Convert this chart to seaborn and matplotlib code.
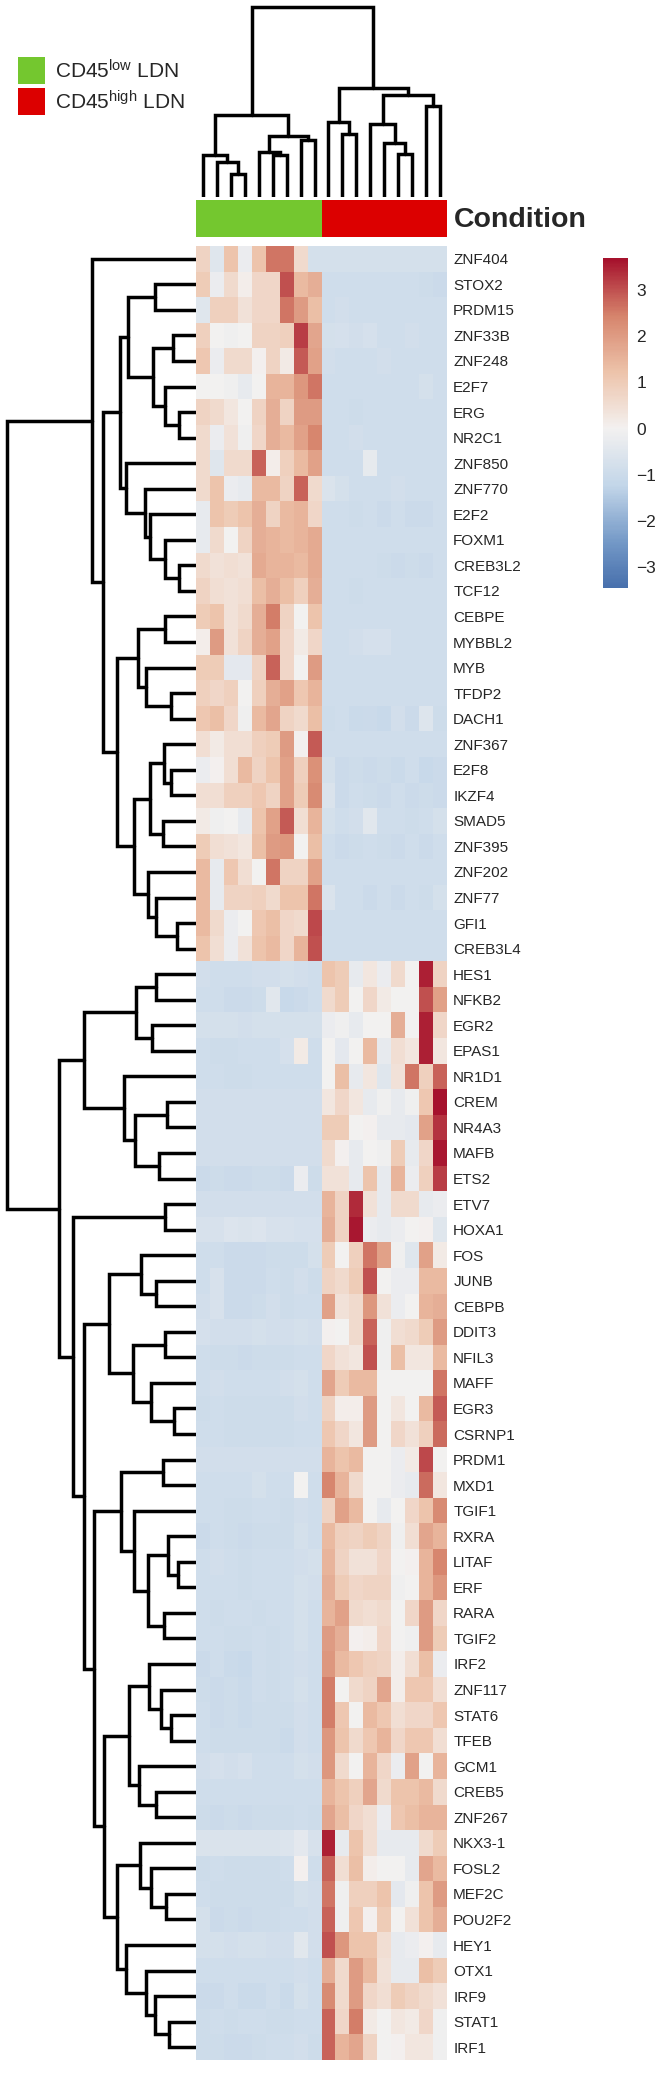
import numpy as np
import pandas as pd
import matplotlib
matplotlib.use("Agg")
import matplotlib.pyplot as plt
import seaborn as sns
from matplotlib.colors import LinearSegmentedColormap, ListedColormap

# ---------------- data ----------------
genes = [
    "ZNF404", "STOX2", "PRDM15", "ZNF33B", "ZNF248", "E2F7", "ERG", "NR2C1",
    "ZNF850", "ZNF770", "E2F2", "FOXM1", "CREB3L2", "TCF12", "CEBPE", "MYBBL2",
    "MYB", "TFDP2", "DACH1", "ZNF367", "E2F8", "IKZF4", "SMAD5", "ZNF395",
    "ZNF202", "ZNF77", "GFI1", "CREB3L4",
    "HES1", "NFKB2", "EGR2", "EPAS1", "NR1D1", "CREM", "NR4A3", "MAFB", "ETS2",
    "ETV7", "HOXA1", "FOS", "JUNB", "CEBPB", "DDIT3", "NFIL3", "MAFF", "EGR3",
    "CSRNP1", "PRDM1", "MXD1", "TGIF1", "RXRA", "LITAF", "ERF", "RARA", "TGIF2",
    "IRF2", "ZNF117", "STAT6", "TFEB", "GCM1", "CREB5", "ZNF267", "NKX3-1",
    "FOSL2", "MEF2C", "POU2F2", "HEY1", "OTX1", "IRF9", "STAT1", "IRF1",
]

samples = [f"S{i + 1}" for i in range(18)]
condition = ["low"] * 9 + ["high"] * 9
legend_labels = [r"CD45$^{\mathregular{low}}$ LDN", r"CD45$^{\mathregular{high}}$ LDN"]

# z-scores, green (CD45low) columns then red (CD45high) columns
low_part = [
    [0.8, -0.5, 1.2, -0.2, 1.2, 2.6, 2.6, 0.6, -0.8],
    [1.0, -0.2, 0.6, 0.1, 0.7, 0.7, 3.0, 1.4, 1.6],
    [-0.5, 0.9, 0.9, 0.4, 0.7, 0.7, 2.6, 2.0, 1.3],
    [0.9, 0.0, -0.1, 0.0, 0.8, 0.8, 0.9, 3.2, 1.8],
    [1.1, -0.2, 0.6, 0.6, 0.05, 0.8, 0.2, 2.9, 1.9],
    [0.0, 0.0, -0.1, -0.3, 0.0, 1.5, 1.5, 2.1, 2.6],
    [0.8, 0.6, 0.3, 0.0, 0.8, 1.6, 0.8, 2.0, 2.0],
    [0.6, -0.2, 0.4, -0.1, 0.7, 1.6, 1.4, 1.9, 2.4],
    [0.6, -0.5, 0.6, 0.6, 2.8, 0.1, 0.9, 1.4, 1.9],
    [0.6, 1.2, -0.2, -0.3, 1.4, 1.4, 0.8, 2.8, 0.6],
    [-0.3, 1.2, 1.0, 1.2, 1.6, 0.8, 1.4, 1.5, 0.7],
    [-0.3, 0.6, 0.0, 0.8, 1.6, 1.5, 1.4, 1.5, 1.7],
    [0.6, 0.4, 0.5, 0.4, 1.7, 1.5, 1.5, 1.4, 1.7],
    [0.8, 0.5, 0.4, 0.5, 1.3, 1.6, 1.3, 0.9, 1.6],
    [1.0, 1.2, 0.4, 0.6, 1.6, 2.5, 0.8, 0.0, 1.2],
    [0.1, 2.0, 0.4, 0.8, 1.6, 1.9, 0.7, 0.2, 0.7],
    [1.0, 1.0, -0.4, -0.4, 0.8, 2.8, 0.7, 0.0, 2.0],
    [0.9, 0.7, 0.9, 0.0, 0.9, 1.6, 1.9, 1.1, 1.5],
    [1.1, 1.3, 0.7, -0.1, 1.4, 1.8, 0.8, 0.6, 1.3],
    [0.5, 0.2, 0.5, 0.5, 0.9, 1.0, 2.0, 0.05, 2.9],
    [-0.2, 0.05, 0.5, 1.4, 0.8, 1.2, 1.9, 0.9, 2.2],
    [0.5, 0.5, 0.9, 0.9, 1.1, 0.8, 1.9, 1.0, 2.3],
    [0.2, -0.1, 0.0, -0.3, 1.2, 1.9, 2.9, 0.5, 1.5],
    [1.0, 0.5, 0.4, 0.3, 1.3, 2.0, 2.1, 0.0, 1.3],
    [1.4, -0.3, 1.1, 0.5, 0.0, 2.6, 0.8, 0.8, 1.9],
    [1.4, -0.3, 0.8, 0.8, 0.9, 0.6, 1.2, 1.2, 2.6],
    [1.4, 0.6, -0.2, 0.0, 1.1, 1.3, 0.7, 0.6, 3.1],
    [1.2, 0.5, -0.2, 0.4, 1.2, 1.4, 0.7, 1.5, 3.0],
    [-0.85, -0.9, -0.9, -0.9, -0.85, -0.85, -0.8, -0.85, -0.9],
    [-0.9, -0.9, -1.0, -1.0, -0.95, -0.45, -1.1, -1.0, -0.9],
    [-0.8, -0.8, -0.8, -0.85, -0.8, -0.8, -0.8, -0.8, -0.8],
    [-0.9, -0.95, -0.95, -0.9, -0.9, -0.9, -0.75, 0.2, -0.9],
    [-0.9, -0.9, -0.95, -0.95, -0.9, -0.9, -0.9, -0.9, -0.9],
    [-0.85, -0.85, -0.85, -0.85, -0.85, -0.85, -0.85, -0.85, -0.85],
    [-0.85, -0.85, -0.85, -0.85, -0.85, -0.85, -0.85, -0.85, -0.85],
    [-0.85, -0.85, -0.85, -0.85, -0.85, -0.85, -0.85, -0.85, -0.85],
    [-1.0, -0.95, -1.0, -1.0, -0.95, -0.95, -1.0, -0.2, -0.95],
    [-0.85, -0.85, -0.85, -0.85, -0.85, -0.85, -0.85, -0.85, -0.85],
    [-0.7, -0.7, -0.6, -0.65, -0.6, -0.7, -0.7, -0.75, -0.75],
    [-0.9, -0.9, -1.0, -1.0, -1.0, -0.95, -0.95, -0.95, -0.8],
    [-0.9, -0.7, -1.0, -1.0, -1.0, -0.9, -0.95, -0.85, -0.95],
    [-0.85, -0.7, -1.0, -1.0, -0.95, -0.85, -0.95, -0.9, -0.9],
    [-0.75, -0.85, -0.85, -0.85, -0.8, -0.85, -0.85, -0.8, -0.85],
    [-0.9, -0.95, -0.95, -1.0, -0.95, -0.95, -0.95, -0.9, -0.9],
    [-0.9, -0.85, -0.9, -0.9, -0.9, -0.9, -0.85, -0.8, -0.9],
    [-0.95, -0.9, -0.95, -0.95, -0.95, -0.95, -0.95, -0.85, -0.9],
    [-0.9, -0.9, -0.95, -0.95, -0.95, -0.95, -0.95, -0.9, -0.9],
    [-0.85, -0.85, -0.85, -0.85, -0.85, -0.85, -0.85, -0.85, -0.85],
    [-0.9, -0.9, -0.9, -0.9, -0.8, -0.9, -0.9, 0.0, -0.9],
    [-0.9, -0.9, -0.95, -0.95, -0.9, -0.9, -0.95, -0.85, -0.9],
    [-1.0, -0.9, -0.95, -1.0, -0.95, -0.95, -0.95, -0.8, -0.9],
    [-0.9, -0.85, -0.9, -0.95, -0.9, -0.9, -0.9, -0.85, -0.8],
    [-0.9, -0.9, -0.9, -0.95, -0.9, -0.9, -0.9, -0.8, -0.85],
    [-0.9, -0.95, -0.9, -0.9, -0.95, -0.9, -0.9, -0.8, -0.9],
    [-0.9, -0.9, -0.95, -0.95, -0.9, -0.95, -0.9, -0.8, -0.9],
    [-1.0, -0.9, -1.05, -1.1, -0.9, -0.95, -0.9, -0.85, -0.9],
    [-0.95, -1.0, -0.95, -1.05, -0.9, -0.95, -0.9, -0.8, -0.9],
    [-0.9, -1.0, -0.95, -1.05, -0.95, -0.95, -0.95, -0.85, -0.9],
    [-0.9, -0.95, -0.95, -0.95, -0.95, -0.95, -1.05, -0.85, -0.9],
    [-0.85, -0.75, -0.85, -0.75, -0.9, -0.9, -0.9, -0.8, -0.85],
    [-0.9, -0.9, -0.9, -0.9, -0.9, -0.9, -0.9, -0.9, -0.9],
    [-0.95, -1.0, -0.95, -1.0, -0.95, -0.95, -0.95, -0.9, -0.95],
    [-0.65, -0.65, -0.65, -0.65, -0.65, -0.65, -0.6, -0.4, -0.7],
    [-0.95, -0.9, -0.95, -0.95, -0.95, -0.95, -0.9, 0.05, -0.9],
    [-0.9, -0.95, -0.95, -0.95, -0.95, -0.95, -0.95, -0.8, -0.85],
    [-0.8, -1.0, -0.95, -1.0, -0.95, -0.95, -0.9, -0.9, -0.85],
    [-0.8, -0.8, -0.85, -0.8, -0.8, -0.85, -0.85, -0.45, -0.85],
    [-0.9, -0.9, -0.9, -0.9, -0.9, -0.9, -0.9, -0.85, -0.9],
    [-1.0, -1.0, -0.9, -1.05, -1.05, -0.9, -1.05, -0.8, -0.9],
    [-0.95, -0.9, -0.95, -0.9, -0.9, -0.95, -0.95, -0.9, -0.9],
    [-0.95, -0.95, -1.0, -1.0, -0.95, -0.9, -0.9, -0.85, -0.95],
]

high_part = [
    [-0.8, -0.8, -0.8, -0.8, -0.8, -0.8, -0.8, -0.8, -0.8],
    [-0.9, -0.9, -0.9, -0.9, -0.9, -0.9, -0.9, -0.95, -1.0],
    [-0.9, -0.85, -0.9, -0.9, -0.9, -0.9, -0.9, -0.9, -0.9],
    [-0.8, -0.75, -0.85, -0.75, -0.9, -0.9, -0.85, -0.9, -0.9],
    [-0.85, -0.9, -0.9, -0.9, -0.85, -0.9, -0.9, -0.9, -0.9],
    [-0.9, -0.9, -0.9, -0.9, -0.9, -0.9, -0.9, -0.8, -0.9],
    [-0.9, -0.9, -0.95, -0.9, -0.9, -0.9, -0.9, -0.9, -0.9],
    [-0.9, -0.9, -0.85, -0.9, -0.9, -0.9, -0.9, -0.9, -0.9],
    [-0.9, -0.9, -0.9, -0.35, -0.9, -0.9, -0.9, -0.9, -0.9],
    [-0.65, -0.8, -0.9, -0.9, -0.9, -0.85, -0.9, -0.9, -0.9],
    [-0.9, -0.9, -0.95, -0.9, -1.0, -0.9, -1.0, -1.0, -0.9],
    [-0.9, -0.9, -0.9, -0.9, -0.9, -0.9, -0.9, -0.9, -0.9],
    [-0.9, -0.9, -0.9, -0.9, -0.95, -1.0, -0.95, -1.0, -0.9],
    [-0.9, -0.9, -0.95, -0.9, -0.9, -0.9, -0.9, -0.9, -0.9],
    [-0.9, -0.9, -0.9, -0.9, -0.9, -0.9, -0.9, -0.9, -0.9],
    [-0.9, -0.9, -0.85, -0.75, -0.75, -0.9, -0.9, -0.9, -0.9],
    [-0.9, -0.9, -0.9, -0.9, -0.9, -0.9, -0.9, -0.9, -0.9],
    [-0.9, -0.9, -0.9, -0.9, -0.9, -0.9, -0.9, -0.9, -0.9],
    [-0.95, -0.9, -1.05, -1.0, -1.1, -0.85, -1.0, -0.55, -0.95],
    [-0.9, -0.9, -0.9, -0.9, -0.9, -0.9, -0.9, -0.9, -0.9],
    [-0.8, -1.0, -0.95, -1.0, -0.95, -1.05, -0.9, -1.1, -1.0],
    [-0.65, -1.0, -0.9, -0.95, -1.0, -0.9, -1.0, -0.95, -1.0],
    [-0.8, -0.9, -0.85, -0.45, -0.9, -0.9, -0.95, -0.9, -0.8],
    [-0.9, -1.0, -0.95, -0.9, -0.95, -1.0, -0.9, -1.0, -0.9],
    [-0.9, -0.9, -0.9, -0.9, -0.9, -0.9, -0.9, -0.9, -0.9],
    [-0.65, -0.9, -0.9, -1.0, -0.9, -1.0, -0.9, -0.95, -0.8],
    [-0.9, -0.9, -0.9, -0.9, -0.9, -0.9, -0.9, -0.9, -0.9],
    [-0.9, -0.9, -0.9, -0.9, -0.9, -0.9, -0.9, -0.9, -0.9],
    [1.2, 1.0, -0.3, 0.3, -0.2, 0.6, 0.0, 3.5, 0.8],
    [0.6, 1.0, 0.0, 0.7, 0.2, 0.0, 0.0, 3.0, 1.9],
    [-0.2, -0.1, -0.3, 0.0, 0.0, 1.6, 0.0, 3.5, 0.7],
    [0.0, -0.4, 0.0, 1.4, -0.3, 0.5, 0.3, 3.5, 0.3],
    [0.0, 1.3, -0.3, 0.3, -0.5, 0.4, 2.6, 0.9, 2.8],
    [0.3, 0.7, 0.3, -0.3, -0.1, -0.3, -0.1, 1.1, 3.7],
    [1.0, 1.0, 0.0, 0.05, -0.3, -0.3, -0.4, 1.9, 3.3],
    [0.6, 0.05, -0.3, 0.0, -0.1, 1.0, -0.3, 0.7, 3.6],
    [0.4, 0.4, -0.3, 1.2, -0.3, 1.5, -0.2, 0.9, 3.2],
    [1.5, 0.8, 3.4, 0.4, -0.3, 0.6, 0.6, -0.3, -0.2],
    [1.6, 0.8, 3.6, -0.2, -0.3, -0.2, 0.0, 0.05, -0.5],
    [1.0, 0.0, 0.9, 2.6, 1.9, -0.1, -0.5, 1.9, 0.2],
    [0.8, 0.6, 1.0, 3.0, 0.0, -0.2, -0.2, 1.4, 1.4],
    [1.9, 0.4, 0.6, 2.1, 0.4, -0.2, 0.0, 1.5, 1.6],
    [0.05, 0.0, 0.6, 2.8, -0.1, 0.5, 0.6, 1.0, 2.0],
    [0.7, 0.4, 0.3, 3.0, -0.1, 1.3, 0.3, 0.3, 1.4],
    [1.8, 1.0, 1.4, 1.4, 0.0, 0.0, 0.0, 0.0, 2.6],
    [0.8, 0.1, 0.1, 2.0, 0.0, 0.3, 0.0, 1.4, 2.9],
    [1.1, 0.7, 0.3, 2.0, 0.0, 0.7, 0.4, 0.9, 2.7],
    [1.5, 1.2, 1.4, 0.0, 0.0, -0.2, 0.2, 3.1, 0.0],
    [2.4, 1.5, 0.6, 0.0, 0.0, -0.2, -0.3, 2.7, 0.3],
    [0.8, 1.9, 1.4, 0.0, -0.3, 0.0, 0.7, 1.2, 2.3],
    [1.4, 0.9, 0.8, 1.0, 0.8, -0.1, 0.5, 1.8, 1.5],
    [1.5, 0.8, 0.4, 0.4, 0.7, 0.0, 0.05, 1.5, 2.4],
    [1.6, 1.0, 0.7, 0.8, 0.8, -0.1, 0.0, 1.5, 2.1],
    [1.5, 1.9, 0.6, 0.5, 0.6, 0.0, 0.7, 2.0, 0.7],
    [2.0, 1.6, 0.05, 0.1, 0.7, 0.0, -0.1, 2.0, 1.0],
    [2.1, 1.4, 1.1, 0.9, 0.8, 0.1, 0.5, 1.3, -0.2],
    [2.5, 0.0, 0.6, 0.8, 1.8, 0.1, 1.1, 1.1, 0.5],
    [2.5, 1.1, 0.0, 1.4, 1.1, 0.5, 0.7, 0.7, 1.1],
    [2.1, 1.2, 0.6, 1.1, 1.5, 0.7, 1.1, 1.1, 0.5],
    [2.1, 0.6, 0.0, 1.5, 0.7, -0.2, 1.9, 0.0, 1.5],
    [1.5, 1.2, 0.9, 1.8, 0.6, 1.2, 1.2, 1.4, 0.6],
    [1.8, 1.3, 0.7, 0.5, -0.2, 1.1, 1.3, 1.5, 1.5],
    [3.5, -0.3, 1.2, 0.5, -0.3, -0.3, -0.3, 0.6, 1.0],
    [2.8, 0.5, 1.3, 0.1, 0.0, 0.0, -0.3, 1.8, 1.4],
    [2.6, -0.1, 0.9, 0.9, 1.2, -0.4, -0.1, 1.2, 2.0],
    [2.8, -0.1, 1.1, 0.05, 1.0, 0.0, 0.4, 1.2, 1.6],
    [3.0, 2.1, 1.2, 1.2, 0.5, -0.3, -0.2, 0.05, -0.3],
    [1.6, 0.6, 2.0, 1.4, 0.4, -0.3, -0.3, 1.3, 1.0],
    [2.3, 0.6, 2.0, 0.7, 0.5, 1.0, 0.8, 0.6, 0.4],
    [2.8, 0.7, 2.5, 0.2, 0.0, 0.3, 0.2, 0.7, -0.1],
    [2.8, 1.5, 1.8, 0.8, 0.0, 0.05, 0.3, 0.3, -0.1],
]

# dendrograms as nested (merge height, left, right); leaves are column / row indices
col_tree = (190,
            (82, (42, 0, (35, 1, (23, 2, 3))), (61, (45, 4, (42, 5, 6)), (57, 7, 8))),
            (109, (75, 9, (63, 10, 11)),
             (102, (73, 12, (54, 13, (43, 14, 15))), (91, 16, 17))))

row_tree = (189,
            (104, 0,
             (93,
              (76,
               (68, (41, 1, 2), (43, (23, 3, 4), (31, 5, (17, 6, 7)))),
               (70, 8, (51, 9, (46, 10, (31, 11, (17, 12, 13)))))),
              (79,
               (58, (31, 14, 15), (50, 16, (25, 17, 18))),
               (62,
                (46, (32, 19, (25, 20, 21)), (33, 22, 23)),
                (48, 24, (40, 25, (19, 26, 27))))))),
            (137,
             (112,
              (60, (40, 28, 29), (44, 30, 31)),
              (72, 32, (61, (29, 33, 34), (37, 35, 36)))),
             (123,
              (31, 37, 38),
              (112,
               (87,
                (55, 39, (40, 40, 41)),
                (63, (31, 42, 43), (45, 44, (22, 45, 46)))),
               (102,
                (75, (33, 47, 48),
                 (62, 49, (48, (28, 50, (18, 51, 52)), (32, 53, 54)))),
                (92,
                 (67, (47, 55, (35, 56, (25, 57, 58))), (57, 59, (40, 60, 61))),
                 (79, (56, 62, (45, 63, (30, 64, 65))),
                  (70, 66, (50, 67, (41, 68, (27, 69, 70)))))))))))

# ---------------- style ----------------
sns.set_style("white")
plt.rcParams["font.family"] = ["Liberation Sans", "DejaVu Sans"]
plt.rcParams["mathtext.fontset"] = "custom"
plt.rcParams["mathtext.rm"] = "Liberation Sans"
plt.rcParams["mathtext.default"] = "regular"

cmap = LinearSegmentedColormap.from_list(
    "expr", ["#3d66a6", "#7499c7", "#c3d6e9", "#f3f1f0", "#edc3aa", "#d6846c", "#a6122d"])
green, red = "#74c72f", "#dc0000"

W, H = 670, 2076
fig = plt.figure(figsize=(W / 100, H / 100), dpi=100)


def px_axes(x0, y0, x1, y1):
    return fig.add_axes([x0 / W, 1 - y1 / H, (x1 - x0) / W, (y1 - y0) / H])


def draw_tree(ax, node, rows):
    if isinstance(node, int):
        return node + 0.5, 0.0
    h, left, right = node
    p1, h1 = draw_tree(ax, left, rows)
    p2, h2 = draw_tree(ax, right, rows)
    pos = [p1, p1, p2, p2]
    hts = [h1, h, h, h2]
    if rows:
        ax.plot(hts, pos, color="black", lw=2.5, solid_joinstyle="miter")
    else:
        ax.plot(pos, hts, color="black", lw=2.5, solid_joinstyle="miter")
    return (p1 + p2) / 2, h


expr = pd.DataFrame([a + b for a, b in zip(low_part, high_part)], index=genes, columns=samples)

# heatmap + colorbar
ax_hm = px_axes(196, 246, 447, 2060)
ax_cb = px_axes(603, 258, 628, 588)
sns.heatmap(expr, ax=ax_hm, cmap=cmap, vmin=-3.45, vmax=3.69, center=0,
            cbar_ax=ax_cb, cbar_kws={"ticks": [-3, -2, -1, 0, 1, 2, 3]},
            xticklabels=False, yticklabels=genes)
ax_hm.yaxis.tick_right()
ax_hm.tick_params(axis="y", length=0, pad=4.5, labelsize=11, rotation=0)
ax_hm.set_xlabel("")
ax_hm.set_ylabel("")
ax_cb.tick_params(length=0, labelsize=12.5, pad=6)
ax_hm.collections[0].colorbar.outline.set_visible(False)

# annotation bar
ax_ann = px_axes(196, 200, 447, 237)
codes = np.array([[0 if c == "low" else 1 for c in condition]])
sns.heatmap(codes, ax=ax_ann, cmap=ListedColormap([green, red]), vmin=0, vmax=1,
            cbar=False, xticklabels=False, yticklabels=False)
fig.text(454 / W, 1 - 220 / H, "Condition", fontsize=20.5, fontweight="bold", va="center")

# dendrograms
ax_cd = px_axes(196, 0, 447, 197)
draw_tree(ax_cd, col_tree, rows=False)
ax_cd.set_xlim(0, len(samples))
ax_cd.set_ylim(0, 197)
ax_cd.axis("off")

ax_rd = px_axes(0, 246, 196, 2060)
draw_tree(ax_rd, row_tree, rows=True)
ax_rd.set_xlim(196, 0)
ax_rd.set_ylim(len(genes), 0)
ax_rd.axis("off")

# legend
for i, (lab, col) in enumerate(zip(legend_labels, [green, red])):
    y0 = 57 + i * 31
    fig.patches.append(plt.Rectangle((18 / W, 1 - (y0 + 27) / H), 27 / W, 27 / H,
                                     transform=fig.transFigure, facecolor=col,
                                     edgecolor="none"))
    fig.text(55 / W, 1 - (y0 + 14) / H, lab, fontsize=15, va="center")

fig.savefig("out.png", dpi=100)
